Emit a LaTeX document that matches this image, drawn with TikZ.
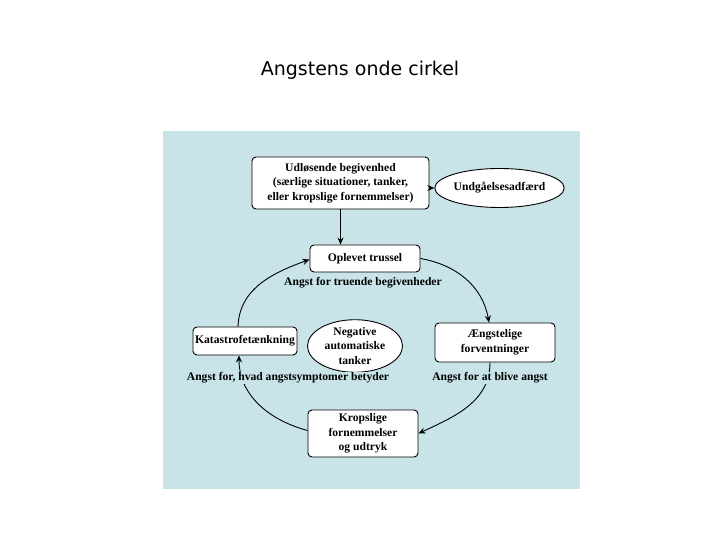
\documentclass[tikz,border=0pt]{standalone}
\usepackage{fontspec}
\setmainfont{Liberation Serif}
\newfontfamily\titlefont{DejaVu Sans}
\usepackage{tikz}
\usetikzlibrary{shapes.geometric,arrows.meta}
\usepackage{xcolor}
\definecolor{panelblue}{RGB}{200,228,232}

\tikzset{
  stepbox/.style={draw,fill=white,rounded corners=4pt,line width=0.9pt,align=center,inner sep=1pt,
    font=\bfseries\fontsize{11.6}{14.5}\selectfont},
  thought/.style={draw,fill=white,ellipse,line width=0.9pt,align=center,inner sep=0pt,
    font=\bfseries\fontsize{11.6}{14.5}\selectfont},
  fearlabel/.style={fill=panelblue,inner sep=1pt,font=\bfseries\fontsize{11.6}{13}\selectfont},
  link/.style={->,line width=0.9pt},
}

\begin{document}
\begin{tikzpicture}[x=1pt,y=1pt,>={Stealth[length=7pt,width=6pt]}]
      \useasboundingbox (0,0) rectangle (720,540);
      \fill[white] (0,0) rectangle (720,540);
      \node (title) at (360,470) {\titlefont\fontsize{19}{22}\selectfont Angstens onde cirkel};
      \fill[panelblue] (163,51) rectangle (580,409);

      % boxes of the circle
      \node[stepbox,minimum width=177pt,minimum height=52pt] (trigger) at (340.5,357)
        {Udløsende begivenhed\\(særlige situationer, tanker,\\eller kropslige fornemmelser)};
      \node[thought,minimum width=107pt,minimum height=39pt] (avoid) at (499.5,352) {Undgåelsesadfærd};
      \node[stepbox,minimum width=110pt,minimum height=27pt] (threat) at (365,281.5) {Oplevet trussel};
      \node[stepbox,minimum width=120pt,minimum height=39pt] (expect) at (495,197.5) {Ængstelige\\forventninger};
      \node[stepbox,minimum width=110pt,minimum height=47pt] (body) at (363,106.5) {Kropslige\\fornemmelser\\og udtryk};
      \node[stepbox,minimum width=104pt,minimum height=28pt] (catastrophe) at (245,199) {Katastrofetænkning};
      \node[thought,minimum width=95pt,minimum height=46pt] (negative) at (355,194) {Negative\\automatiske\\tanker};

      % connectors
      \draw[link] (trigger.east |- avoid) -- (avoid.west);
      \draw[link] (trigger.south) -- (trigger.south |- threat.north);
      \draw[link] (threat.east) to[out=-10,in=100] ([xshift=-6pt]expect.north);
      \draw[link] ([xshift=-5pt]expect.south) to[out=-90,in=25] (body.east);
      \draw[link] ([yshift=3pt]body.west) to[out=165,in=-90] ([xshift=-6pt]catastrophe.south);
      \draw[link] ([xshift=-7pt]catastrophe.north) to[out=88,in=200] ([yshift=-1pt]threat.west);

      % labels on the circle
      \node[fearlabel] (threatlabel) at (363,257) {Angst for truende begivenheder};
      \node[fearlabel] (fearlabel) at (490,162) {Angst for at blive angst};
      \node[fearlabel] (symptomlabel) at (288,162) {Angst for, hvad angstsymptomer betyder};
\end{tikzpicture}
\end{document}
